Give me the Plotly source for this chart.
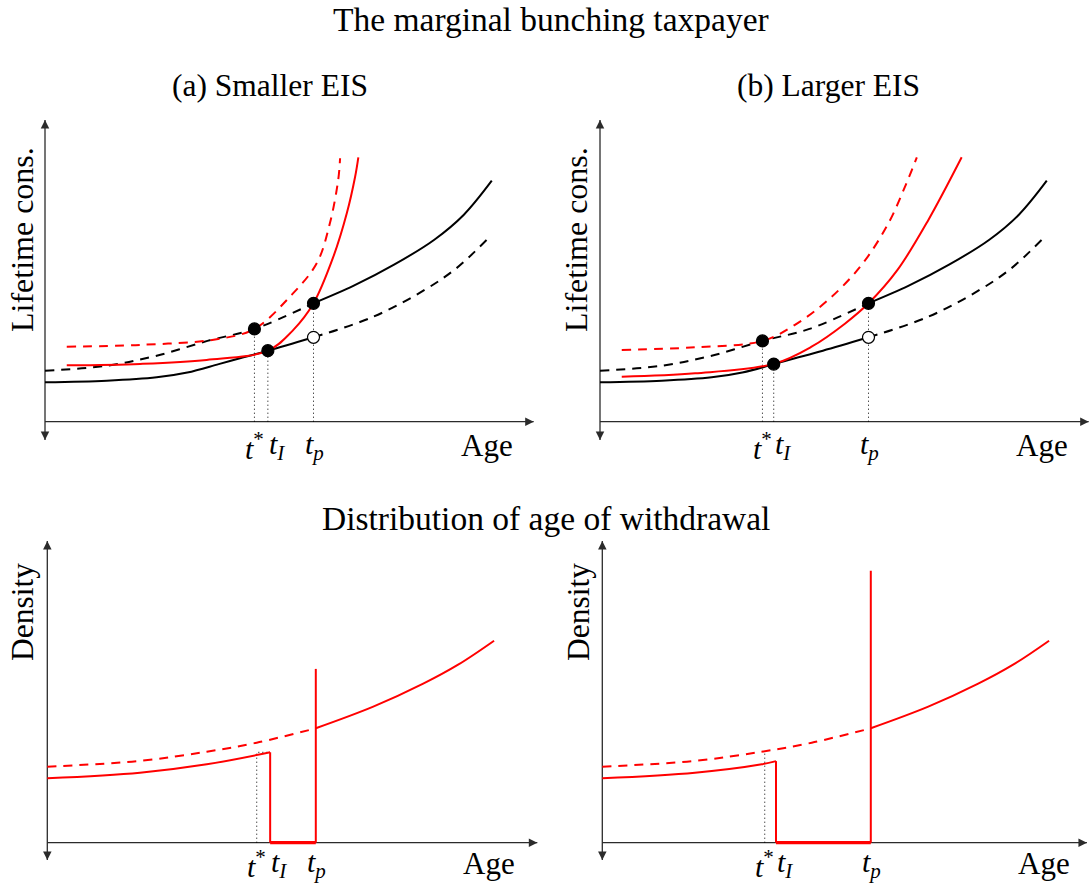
import numpy as np
import plotly.graph_objects as go

# ---------------------------------------------------------------
# Schematic values (age on x, lifetime consumption / density on y)
# ---------------------------------------------------------------
t_p = 10.0
t_star_a, t_I_a = 7.8, 8.3      # smaller EIS
t_star_b, t_I_b = 6.05, 6.47    # larger EIS

# lifetime consumption, black curves (same in both panels)
black_low_x = [0, 2.30, 4.16, 5.30, 6.47, 7.26, 8.3, 10.0, 12.23, 14.09, 15.30, 16.45]
black_low_y = [1.97, 2.05, 2.22, 2.46, 2.88, 3.17, 3.55, 4.22, 5.25, 6.55, 7.65, 9.09]
black_high_x = [0, 2.30, 4.16, 6.05, 7.8, 10.0, 11.5, 13.0, 14.5, 15.6, 16.64]
black_high_y = [2.55, 2.80, 3.30, 4.04, 4.64, 5.92, 6.80, 7.85, 9.10, 10.35, 12.05]

# red curves, smaller EIS
red_dash_a_x = [0.81, 3.54, 6.39, 7.8, 9.12, 10.12, 10.61, 10.92, 10.99]
red_dash_a_y = [3.75, 3.84, 4.12, 4.64, 6.25, 7.92, 9.92, 12.09, 13.17]
red_solid_a_x = [0.81, 3.54, 6.02, 8.3, 9.25, 10.0, 10.74, 11.24, 11.55, 11.67]
red_solid_a_y = [2.82, 2.89, 3.09, 3.55, 4.59, 5.92, 8.25, 10.42, 12.25, 13.22]

# red curves, larger EIS
red_dash_b_x = [0.81, 3.54, 6.05, 7.26, 8.50, 9.75, 10.74, 11.36, 11.80]
red_dash_b_y = [3.59, 3.72, 4.04, 4.84, 6.09, 7.85, 9.92, 11.75, 13.22]
red_solid_b_x = [0.81, 3.54, 6.47, 7.88, 9.12, 10.0, 11.08, 12.23, 13.47]
red_solid_b_y = [2.25, 2.42, 2.89, 3.75, 4.90, 5.92, 7.59, 10.09, 13.22]

# withdrawal-age density
dens_dash_x = [0, 3.45, 5.94, 7.80, 10.0]
dens_dash_y = [3.80, 4.09, 4.55, 5.00, 5.72]
dens_up_x = [10.0, 12.14, 14.0, 15.3, 16.64]
dens_up_y = [5.72, 6.80, 7.95, 8.90, 10.10]
dens_low_a_x = [0, 3.45, 5.94, 8.3]
dens_low_a_y = [3.22, 3.50, 3.92, 4.52]
dens_low_b_x = [0, 3.45, 5.94, 6.47]
dens_low_b_y = [3.22, 3.50, 3.92, 4.08]
spike_a, spike_b = 8.69, 13.6
dotted_top = 4.55

# ---------------------------------------------------------------
W, H = 1091, 883
U, V = 26.85, 20.0          # px per unit along x / y
FONT = "Liberation Serif"
AX_COL = "#2b2b2b"
RED = "#ff0000"

# origin (px) and plotting box (px) of each panel
panels = [
    (45.0, 421.7, 0, 545, 95, 470),
    (600.0, 421.7, 545, 1091, 95, 470),
    (47.3, 842.7, 0, 545, 525, 883),
    (602.3, 842.7, 545, 1091, 525, 883),
]
# axis extents (units): y from ylo to yhi, x from 0 to xhi
axis_ext = [(-0.915, 15.09, 18.2), (-0.915, 15.09, 18.2),
            (-0.87, 15.09, 18.25), (-0.87, 15.09, 18.05)]

fig = go.Figure()
refs = []
for i, (ox, oy, px0, px1, pyt, pyb) in enumerate(panels):
    n = "" if i == 0 else str(i + 1)
    fig.layout["xaxis" + n] = dict(domain=[px0 / W, px1 / W],
                                   range=[(px0 - ox) / U, (px1 - ox) / U],
                                   visible=False, fixedrange=True)
    fig.layout["yaxis" + n] = dict(domain=[1 - pyb / H, 1 - pyt / H],
                                   range=[(oy - pyb) / V, (oy - pyt) / V],
                                   visible=False, fixedrange=True)
    refs.append(("x" + n, "y" + n))


def line(p, x, y, color, dash="solid", width=2.0, shape="spline"):
    xr, yr = refs[p]
    fig.add_trace(go.Scatter(x=list(x), y=list(y), mode="lines",
                             line=dict(color=color, width=width, dash=dash,
                                       shape=shape, smoothing=1.0),
                             xaxis=xr, yaxis=yr, hoverinfo="skip",
                             showlegend=False, cliponaxis=False))


def dots(p, x, y, filled=True):
    xr, yr = refs[p]
    fig.add_trace(go.Scatter(x=list(x), y=list(y), mode="markers",
                             marker=dict(size=12, color="black" if filled else "white",
                                         line=dict(color="black", width=1.2)),
                             xaxis=xr, yaxis=yr, hoverinfo="skip",
                             showlegend=False, cliponaxis=False))


def split(xs, ys, at):
    xs, ys = np.asarray(xs), np.asarray(ys)
    lo, hi = xs <= at, xs >= at
    return (xs[lo], ys[lo]), (xs[hi], ys[hi])


DASH = "9px,7px"
DOT = "1px,3px"

# --- axes: lines with arrow tips ---
for p, (ylo, yhi, xhi) in enumerate(axis_ext):
    xr, yr = refs[p]
    line(p, [0, 0], [ylo, yhi], AX_COL, width=1.3, shape="linear")
    line(p, [0, xhi], [0, 0], AX_COL, width=1.3, shape="linear")
    fig.add_trace(go.Scatter(
        x=[0, 0, xhi], y=[yhi, ylo, 0], mode="markers",
        marker=dict(symbol=["arrow-up", "arrow-down", "arrow-right"], size=8.5,
                    color=AX_COL, line=dict(width=0)),
        xaxis=xr, yaxis=yr, hoverinfo="skip", showlegend=False, cliponaxis=False))

bl_pre, bl_post = split(black_low_x, black_low_y, t_p)
bh_pre, bh_post = split(black_high_x, black_high_y, t_p)
low_at = dict(zip(black_low_x, black_low_y))
high_at = dict(zip(black_high_x, black_high_y))

# --- top row: lifetime consumption ---
for p, (ts, ti, rdx, rdy, rsx, rsy) in enumerate([
        (t_star_a, t_I_a, red_dash_a_x, red_dash_a_y, red_solid_a_x, red_solid_a_y),
        (t_star_b, t_I_b, red_dash_b_x, red_dash_b_y, red_solid_b_x, red_solid_b_y)]):
    # dotted guides
    for t, h in [(ts, high_at[ts]), (ti, low_at[ti]), (t_p, high_at[t_p])]:
        line(p, [t, t], [0, h], "black", dash=DOT, width=1, shape="linear")
    line(p, *bl_pre, "black")
    line(p, *bl_post, "black", dash=DASH)
    line(p, *bh_pre, "black", dash=DASH)
    line(p, *bh_post, "black")
    line(p, rdx, rdy, RED, dash=DASH)
    line(p, rsx, rsy, RED)
    dots(p, [ts, ti, t_p], [high_at[ts], low_at[ti], high_at[t_p]])
    dots(p, [t_p], [low_at[t_p]], filled=False)

# --- bottom row: density of withdrawal age ---
for p, (ts, ti, lx, ly, spike) in [
        (2, (t_star_a, t_I_a, dens_low_a_x, dens_low_a_y, spike_a)),
        (3, (t_star_b, t_I_b, dens_low_b_x, dens_low_b_y, spike_b))]:
    if p == 2:
        line(p, [ts, ts, ti], [0, ly[-1], ly[-1]], "black", dash=DOT, width=1, shape="linear")
    else:
        line(p, [ts, ts], [0, dotted_top], "black", dash=DOT, width=1, shape="linear")
    line(p, dens_dash_x, dens_dash_y, RED, dash=DASH)
    line(p, lx, ly, RED)
    line(p, [ti, ti], [ly[-1], 0], RED, shape="linear")
    line(p, [ti, t_p], [0, 0], RED, width=3.2, shape="linear")
    line(p, [t_p, t_p], [0, spike], RED, shape="linear")
    line(p, dens_up_x, dens_up_y, RED)

# --- tick labels and axis titles ---
ann = []
t_sets = [(t_star_a, t_I_a), (t_star_b, t_I_b), (t_star_a, t_I_a), (t_star_b, t_I_b)]
label_drop = [-24, -24, -21, -21]
for p in range(4):
    xr, yr = refs[p]
    ts, ti = t_sets[p]
    lab = dict(xref=xr, yref=yr, y=0, yshift=label_drop[p], yanchor="middle",
               showarrow=False, font=dict(family=FONT, size=30, color="black"))
    ann.append(dict(lab, x=ts, text="<i>t</i><sup>*</sup>", xanchor="center"))
    ann.append(dict(lab, x=ti, text="<i>t</i><sub><i>I</i></sub>", xanchor="left", xshift=-1))
    ann.append(dict(lab, x=t_p, text="<i>t</i><sub><i>p</i></sub>", xanchor="center", xshift=1))
    ann.append(dict(lab, x=16.45, text="Age", font=dict(family=FONT, size=31, color="black"),
                    xanchor="center"))

txt = dict(xref="paper", yref="paper", showarrow=False, xanchor="center", yanchor="middle")
for s, px, py, ang, size in [
        ("The marginal bunching taxpayer", 551, 19, 0, 33.5),
        ("(a) Smaller EIS", 270, 85, 0, 31.5),
        ("(b) Larger EIS", 828, 85, 0, 31.5),
        ("Distribution of age of withdrawal", 546, 518, 0, 33.5),
        ("Lifetime cons.", 22, 240, -90, 32),
        ("Lifetime cons.", 576, 240, -90, 32),
        ("Density", 22, 612, -90, 31.5),
        ("Density", 578, 612, -90, 31.5)]:
    ann.append(dict(txt, text=s, x=px / W, y=1 - py / H, textangle=ang,
                    font=dict(family=FONT, size=size, color="black")))

fig.update_layout(width=W, height=H, margin=dict(l=0, r=0, t=0, b=0),
                  paper_bgcolor="white", plot_bgcolor="white",
                  annotations=ann, showlegend=False)

fig.write_html("out.html", config=dict(displayModeBar=False))
